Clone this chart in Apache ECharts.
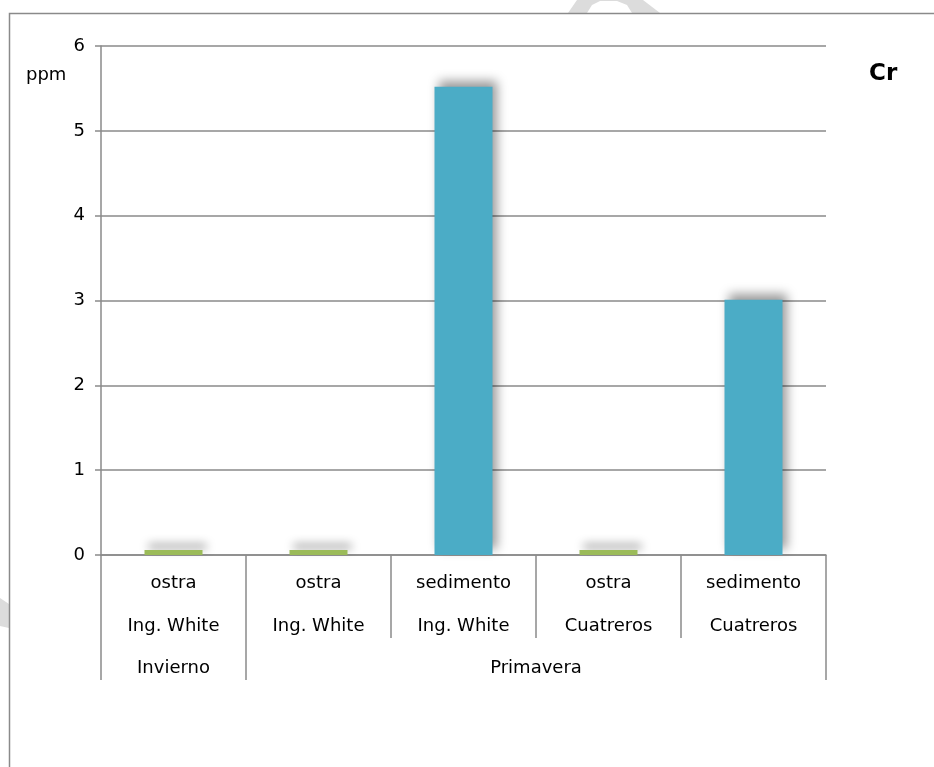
<!DOCTYPE html>
<html>
<head>
<meta charset="utf-8">
<script src="https://cdn.jsdelivr.net/npm/echarts@6/dist/echarts.min.js"></script>
<style>
  html, body { margin: 0; padding: 0; background: #fff; }
  #chart { width: 934px; height: 767px; }
</style>
</head>
<body>
<div id="chart"></div>
<script>
// Chromium (Cr) concentration by sample type, site and season
const sampleTypes = ['ostra', 'ostra', 'sedimento', 'ostra', 'sedimento'];
const sites = ['Ing. White', 'Ing. White', 'Ing. White', 'Cuatreros', 'Cuatreros'];
const crValues = [0.06, 0.06, 5.52, 0.06, 3.01];
const seasons = ['Invierno', 'Primavera'];
const seasonSpans = [1, 4];           // number of samples in each season
const yTicks = [0, 1, 2, 3, 4, 5, 6];

const categories = sampleTypes.map((t, i) => t + '\n' + sites[i]);

// season boundaries and centres on a 0..N scale
const seasonBounds = [0];
seasonSpans.forEach(s => seasonBounds.push(seasonBounds[seasonBounds.length - 1] + s));
const seasonCentres = seasons.map((_, i) => (seasonBounds[i] + seasonBounds[i + 1]) / 2);

const FONT = 'DejaVu Sans';
const AXIS_GREY = '#8a8a8a';
const typeColour = { ostra: '#9bbb59', sedimento: '#4bacc6' };

const chart = echarts.init(document.getElementById('chart'), null, { renderer: 'canvas' });

chart.setOption({
  animation: false,
  backgroundColor: '#ffffff',
  title: {
    text: 'Cr',
    left: 864,
    top: 58,
    textStyle: { fontFamily: FONT, fontWeight: 'bold', fontSize: 23, color: '#000' }
  },
  grid: { left: 101, right: 108, top: 46, bottom: 212, containLabel: false },
  xAxis: [
    {
      type: 'category',
      data: categories,
      boundaryGap: true,
      axisLine: { show: true, lineStyle: { color: AXIS_GREY, width: 1.5 } },
      axisTick: { show: true, interval: 0, length: 83, alignWithLabel: false,
                  lineStyle: { color: AXIS_GREY, width: 1.5 } },
      axisLabel: {
        interval: 0,
        margin: 7,
        fontFamily: FONT,
        fontSize: 18,
        color: '#000',
        lineHeight: 43
      },
      splitLine: { show: false }
    },
    {
      type: 'value',
      position: 'bottom',
      min: 0,
      max: seasonBounds[seasonBounds.length - 1],
      axisLine: { show: false },
      axisTick: { show: true, customValues: seasonBounds, length: 125,
                  lineStyle: { color: AXIS_GREY, width: 1.5 } },
      axisLabel: {
        customValues: seasonCentres,
        margin: 102,
        fontFamily: FONT,
        fontSize: 18,
        color: '#000',
        lineHeight: 22,
        formatter: v => {
          const i = seasonCentres.findIndex(c => Math.abs(c - v) < 1e-6);
          return i >= 0 ? seasons[i] : '';
        }
      },
      splitLine: { show: false }
    }
  ],
  yAxis: {
    type: 'value',
    min: yTicks[0],
    max: yTicks[yTicks.length - 1],
    interval: 1,
    axisLine: { show: true, lineStyle: { color: AXIS_GREY, width: 1.5 } },
    axisTick: { show: true, length: 6, lineStyle: { color: AXIS_GREY, width: 1.5 } },
    axisLabel: { margin: 16, fontFamily: FONT, fontSize: 18, color: '#000' },
    splitLine: { show: true, lineStyle: { color: AXIS_GREY, width: 1.5 } }
  },
  series: [
    {
      type: 'bar',
      xAxisIndex: 0,
      yAxisIndex: 0,
      data: crValues,
      barWidth: '40%',
      itemStyle: {
        color: p => typeColour[sampleTypes[p.dataIndex]],
        shadowColor: 'rgba(0,0,0,0.4)',
        shadowBlur: 10,
        shadowOffsetX: 4,
        shadowOffsetY: -6
      }
    }
  ],
  graphic: [
    // faint watermark fragments peeking around the frame
    {
      type: 'polygon', z: -10, silent: true,
      shape: { points: [[568, 13], [577, 0], [643, 0], [660, 13], [632, 13],
                        [627, 5], [617, 1], [600, 1], [592, 5], [587, 13]] },
      style: { fill: '#dcdcdc' }
    },
    {
      type: 'polygon', z: -10, silent: true,
      shape: { points: [[0, 598], [9, 604], [9, 628], [0, 626]] },
      style: { fill: '#dcdcdc' }
    },
    // chart frame (top and left edges)
    {
      type: 'polyline', silent: true,
      shape: { points: [[9.5, 767], [9.5, 13.5], [934, 13.5]] },
      style: { stroke: AXIS_GREY, lineWidth: 1.5, fill: null }
    },
    // unit label
    {
      type: 'text', silent: true,
      left: 26, top: 66,
      style: { text: 'ppm', fontFamily: FONT, fontSize: 18, fill: '#000' }
    }
  ]
});
</script>
</body>
</html>
